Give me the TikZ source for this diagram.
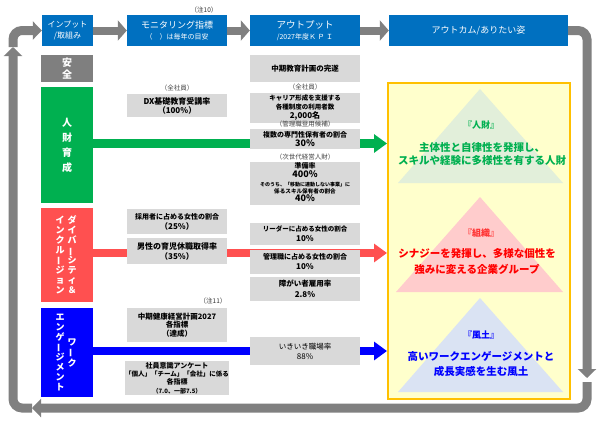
\documentclass[tikz,border=0pt]{standalone}
\usepackage{fontspec}
\setmainfont{Noto Sans CJK JP}
\usetikzlibrary{arrows.meta,calc}
\pgfdeclarelayer{bg}
\pgfsetlayers{bg,main}
\definecolor{hblue}{HTML}{0070C0}
\definecolor{agray}{HTML}{808080}
\definecolor{sgray}{HTML}{7F7F7F}
\definecolor{lgray}{HTML}{D9D9D9}
\definecolor{cgreen}{HTML}{00B050}
\definecolor{cred}{HTML}{FF5050}
\definecolor{tred}{HTML}{FF0000}
\definecolor{cblue}{HTML}{0000FF}
\definecolor{yfill}{HTML}{FFFFCC}
\definecolor{ydraw}{HTML}{FFC000}
\definecolor{trigreen}{HTML}{E2EFDA}
\definecolor{trired}{HTML}{FFCCCC}
\definecolor{triblue}{HTML}{DAE3F3}
\definecolor{dgray}{HTML}{404040}
\newcommand{\fs}[2]{\fontsize{#1}{#2}\selectfont}
\newcommand{\vbar}{\rotatebox[origin=c]{90}{ー}}
\begin{document}
\begin{tikzpicture}[x=1pt,y=-1pt,
  hdr/.style={fill=hblue, text=white, inner sep=0pt, align=center, minimum height=31pt},
  gbox/.style={fill=lgray, inner sep=0pt, align=center},
  lbl/.style={inner sep=0pt, text=dgray, font=\fs{6.5}{7}},
  side/.style={inner sep=0pt, align=center, text=white},
  txt/.style={inner sep=0pt, align=center},
  harr/.style={draw=agray, line width=8pt, -{Triangle[length=9pt,width=20pt]}},
  larr/.style={draw=agray, line width=9pt, rounded corners=9pt, -{Triangle[length=9pt,width=18pt]}},
  carr/.style={line width=8.5pt, -{Triangle[length=13pt,width=18pt]}}
]
\useasboundingbox (0,0) rectangle (601,424);

% ---------- headers ----------
\node[hdr, minimum width=51pt, font=\fs{8}{11.5}] (h1) at (67.5,30.5) {インプット\\/取組み};
\node[hdr, minimum width=100pt, font=\fs{7}{11}] (h2) at (177,30.5) {{\fs{9}{11}モニタリング指標}\\（　）は毎年の目安};
\node[hdr, minimum width=110pt, font=\fs{7}{11}] (h3) at (305,30.5) {{\fs{9.5}{11}アウトプット}\\/2027年度Ｋ Ｐ Ｉ};
\node[hdr, minimum width=179pt, font=\fs{9}{11}] (h4) at (478.5,30.5) {アウトカム/ありたい姿};
\node[lbl, text=black!80] (n10) at (204,10) {（注10）};
\node[lbl, text=black!80] (n11) at (213,301) {（注11）};

% ---------- left labels ----------
\node[fill=sgray, minimum width=52pt, minimum height=27pt, side, font=\bfseries\fs{10}{12}] (ls) at (67,68.5) {安\\全};
\node[fill=cgreen, minimum width=52pt, minimum height=116pt, side, font=\bfseries\fs{10}{15}] (lg) at (67,145) {人\\財\\育\\成};
\node[fill=cred, minimum width=52pt, minimum height=94pt] (ld) at (67,255) {};
\node[side, font=\bfseries\fs{9}{10}] (ld1) at (72,255) {ダ\\イ\\バ\\\vbar\\シ\\テ\\ィ\\＆};
\node[side, font=\bfseries\fs{9}{10}] (ld2) at (60,255) {イ\\ン\\ク\\ル\\\vbar\\ジ\\ョ\\ン};
\node[fill=cblue, minimum width=52pt, minimum height=89pt] (le) at (67,352.5) {};
\node[side, font=\bfseries\fs{9}{10.5}] (le1) at (72,352.5) {ワ\\\vbar\\ク};
\node[side, font=\bfseries\fs{9}{10}] (le2) at (60,352.5) {エ\\ン\\ゲ\\\vbar\\ジ\\メ\\ン\\ト};

% ---------- monitoring column ----------
\node[lbl] (m0) at (177,88) {（全社員）};
\node[gbox, minimum width=100pt, minimum height=23pt, font=\bfseries\fs{8}{9}] (m1) at (177,105.5) {DX基礎教育受講率\\（100\%）};
\node[gbox, minimum width=100pt, minimum height=25pt, font=\bfseries\fs{7}{10}] (m2) at (177,221.5) {採用者に占める女性の割合\\{\fs{8}{10}（25\%）}};
\node[gbox, minimum width=100pt, minimum height=26pt, font=\bfseries\fs{8}{10}] (m3) at (177,251) {男性の育児休職取得率\\（35\%）};
\node[gbox, minimum width=100pt, minimum height=34pt, font=\bfseries\fs{7.5}{8.7}] (m4) at (177,325) {中期健康経営計画2027\\各指標\\（達成）};
\node[gbox, minimum width=100pt, minimum height=34pt, font=\bfseries\fs{6.5}{8.4}] (m5) at (177,378) {{\fs{7}{8}社員意識アンケート}\\「個人」「チーム」「会社」に係る\\{\fs{7}{8}各指標}\\{\fs{6}{7}（7.0、一部7.5）}};

% ---------- output column ----------
\node[gbox, minimum width=110pt, minimum height=27pt, font=\bfseries\fs{7.5}{9}] (o0) at (305,68.5) {中期教育計画の完遂};
\node[lbl] (o1l) at (305,87) {（全社員）};
\node[gbox, minimum width=110pt, minimum height=30pt, font=\bfseries\fs{6.5}{9}] (o1) at (305,108) {キャリア形成を支援する\\各種制度の利用者数\\{\fs{8}{9}2,000名}};
\node[lbl] (o2l) at (305,124.5) {（管理職登用候補）};
\node[gbox, minimum width=110pt, minimum height=20pt, font=\bfseries\fs{7}{9}] (o2) at (305,139) {複数の専門性保有者の割合\\{\fs{9}{9}30\%}};
\node[lbl] (o3l) at (305,157) {（次世代経営人財）};
\node[gbox, minimum width=110pt, minimum height=43pt] (o3) at (305,183.5) {};
\node[txt, font=\bfseries\fs{7}{8}] (o3a) at (305,166) {準備率};
\node[txt, font=\bfseries\fs{9}{9}] (o3b) at (305,174.5) {400\%};
\node[txt, font=\bfseries\fs{5}{6}] (o3c) at (305,185) {そのうち、「移動に連動しない事業」に};
\node[txt, font=\bfseries\fs{5.6}{6}] (o3d) at (305,191.5) {係るスキル保有者の割合};
\node[txt, font=\bfseries\fs{9}{9}] (o3e) at (305,198.5) {40\%};
\node[gbox, minimum width=110pt, minimum height=22pt, font=\bfseries\fs{6.5}{10}] (o4) at (305,234) {リーダーに占める女性の割合\\{\fs{8}{10}10\%}};
\node[gbox, minimum width=110pt, minimum height=24pt, font=\bfseries\fs{7}{10}] (o5) at (305,262) {管理職に占める女性の割合\\{\fs{8}{10}10\%}};
\node[gbox, minimum width=110pt, minimum height=24pt, font=\bfseries\fs{7.5}{11}] (o6) at (305,289) {障がい者雇用率\\{\fs{8}{11}2.8\%}};
\node[gbox, minimum width=110pt, minimum height=28pt, font=\fs{7.5}{10}] (o7) at (305,351) {いきいき職場率\\{\fs{8}{10}88\%}};

% ---------- outcome ----------
\node[fill=yfill, draw=ydraw, line width=2pt, minimum width=182pt, minimum height=316pt, inner sep=0pt] (yb) at (479,241) {};
\fill[trigreen] (480,89) -- (563,183) -- (398,183) -- cycle;
\fill[trired] (480,197) -- (563,292) -- (396,292) -- cycle;
\fill[triblue] (480,298) -- (563,392) -- (398,392) -- cycle;
\node[txt, text=cgreen, font=\bfseries\fs{9}{10}] (og0) at (481,125) {『人財』};
\node[txt, text=cgreen, font=\bfseries\fs{10.5}{13}] (og1) at (482,153.5) {主体性と自律性を発揮し、\\スキルや経験に多様性を有する人財};
\node[txt, text=tred!80, font=\bfseries\fs{9}{10}] (or0) at (481,233) {『組織』};
\node[txt, text=tred, font=\bfseries\fs{10.5}{16}] (or1) at (477,261.5) {シナジーを発揮し、多様な個性を\\強みに変える企業グループ};
\node[txt, text=cblue, font=\bfseries\fs{9}{10}] (ob0) at (481,335) {『風土』};
\node[txt, text=cblue, font=\bfseries\fs{10.5}{15}] (ob1) at (481,364.5) {高いワークエンゲージメントと\\成長実感を生む風土};

% ---------- loop coordinates ----------
\coordinate (rtop) at (587,30.5);
\coordinate (rmid) at (587,378);
\coordinate (rmid2) at (587,382);
\coordinate (rbot) at (587,408);
\coordinate (lbot) at (32,408);
\coordinate (lcorner) at (13,408);
\coordinate (lup) at (13,47);

% ---------- connectors ----------
\begin{pgfonlayer}{bg}
\draw[harr] (h1.east) -- (h2.west);
\draw[harr] (h2.east) -- (h3.west);
\draw[harr] (h3.east) -- (h4.west);
\draw[larr] (h4.east) -- (rtop) -- (rmid);
\draw[larr] (rmid2) -- (rbot) -- (lbot);
\draw[larr] (lbot) -- (lcorner) -- (lup);
\draw[larr] (lup) -- (h1.west -| lup) -- (h1.west);
\draw[carr, draw=cgreen] ([yshift=1.5pt]lg.east) -- ([yshift=1.5pt]lg.east -| yb.west);
\draw[carr, draw=cred] ([yshift=2pt]ld.east) -- ([yshift=2pt]ld.east -| yb.west);
\draw[carr, draw=cblue] ([yshift=1.5pt]le.east) -- ([yshift=1.5pt]le.east -| yb.west);
\end{pgfonlayer}
\end{tikzpicture}
\end{document}
